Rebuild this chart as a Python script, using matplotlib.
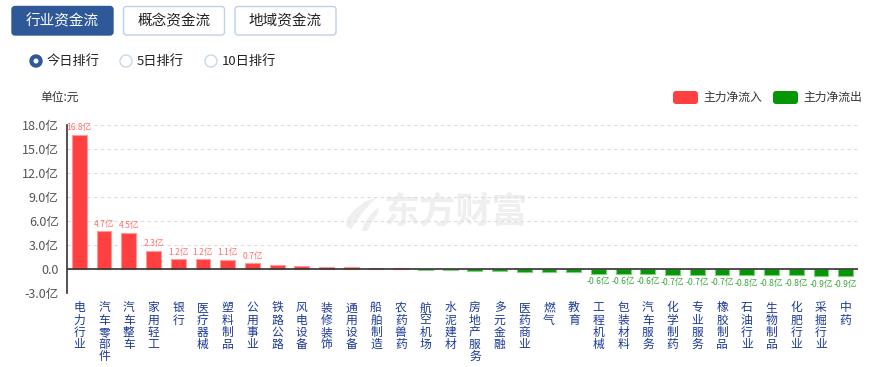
import matplotlib.pyplot as plt
from matplotlib.patches import FancyBboxPatch, Circle, Polygon
import numpy as np

plt.rcParams['font.family'] = ['Noto Sans CJK SC', 'DejaVu Sans']

# 行业资金流 今日排行 (单位: 亿元)
industries = ['电力行业', '汽车零部件', '汽车整车', '家用轻工', '银行', '医疗器械', '塑料制品',
              '公用事业', '铁路公路', '风电设备', '装修装饰', '通用设备', '船舶制造', '农药兽药',
              '航空机场', '水泥建材', '房地产服务', '多元金融', '医药商业', '燃气', '教育',
              '工程机械', '包装材料', '汽车服务', '化学制药', '专业服务', '橡胶制品', '石油行业',
              '生物制品', '化肥行业', '采掘行业', '中药']
net_flow = [16.8, 4.7, 4.5, 2.3, 1.2, 1.2, 1.1, 0.7, 0.45, 0.35, 0.25, 0.3, 0.08, 0.08,
            -0.1, -0.15, -0.2, -0.2, -0.35, -0.4, -0.4, -0.6, -0.6, -0.6, -0.7, -0.7,
            -0.7, -0.8, -0.8, -0.8, -0.9, -0.9]
yticks = [-3, 0, 3, 6, 9, 12, 15, 18]
ytick_labels = ['-3.0亿', '0.0', '3.0亿', '6.0亿', '9.0亿', '12.0亿', '15.0亿', '18.0亿']
tabs = ['行业资金流', '概念资金流', '地域资金流']
periods = ['今日排行', '5日排行', '10日排行']

RED = '#ff4040'
GREEN = '#059605'
BLUE = '#2f5898'

W, H = 869, 367
fig = plt.figure(figsize=(W / 100, H / 100), dpi=100)

# header widgets + watermark, drawn in pixel space behind the chart
ui = fig.add_axes([0, 0, 1, 1])
ui.set_xlim(0, W)
ui.set_ylim(H, 0)
ui.axis('off')

for k, name in enumerate(tabs):
    x0 = 12 + k * 111.5
    active = k == 0
    ui.add_patch(FancyBboxPatch((x0, 6.5), 101, 28.5, boxstyle='round,pad=0,rounding_size=3',
                                fc=BLUE if active else 'white',
                                ec=BLUE if active else '#bcd2ea', lw=1))
    ui.text(x0 + 50.5, 21, name, ha='center', va='center', fontsize=10.5,
            color='white' if active else '#222222')

for k, (name, cx) in enumerate(zip(periods, [36, 126, 211])):
    if k == 0:
        ui.add_patch(Circle((cx, 61), 6, fc=BLUE, ec=BLUE))
        ui.add_patch(Circle((cx, 61), 2.5, fc='white', ec='none'))
    else:
        ui.add_patch(Circle((cx, 61), 6, fc='white', ec='#c8d8ea', lw=1))
    ui.text(cx + 11, 61, name, ha='left', va='center', fontsize=9.5, color='#222222')

ui.text(40, 97, '单位:元', ha='left', va='center', fontsize=8.5, color='#333333')

for (label, color, x0) in [('主力净流入', RED, 673), ('主力净流出', GREEN, 773)]:
    ui.add_patch(FancyBboxPatch((x0, 91), 25, 13, boxstyle='round,pad=0,rounding_size=3',
                                fc=color, ec='none'))
    ui.text(x0 + 30, 97.5, label, ha='left', va='center', fontsize=8.5, color='#333333')

# watermark logo + name
ui.add_patch(Polygon([(377, 197), (366, 201), (355, 209), (347, 219), (346, 226), (351, 229),
                      (356, 222), (363, 212), (370, 204)], closed=True, fc='#efefef', ec='none'))
ui.add_patch(Polygon([(379, 207), (371, 214), (364, 224), (362, 231), (367, 231), (372, 222),
                      (378, 213)], closed=True, fc='#efefef', ec='none'))
ui.text(456, 212, '东方财富', ha='center', va='center', fontsize=26, fontweight='bold',
        color='#efefef')

# main chart
ax = fig.add_axes([67 / W, 1 - 293 / H, (858 - 67) / W, (293 - 125) / H])
x = np.arange(len(industries))
colors = [RED if v >= 0 else GREEN for v in net_flow]
edges = ['#ff9a9a' if v >= 0 else '#7fcf7f' for v in net_flow]
ax.bar(x, net_flow, width=0.6, color=colors, edgecolor=edges, linewidth=0.8, zorder=2)

for i, v in enumerate(net_flow):
    if abs(v) < 0.5:
        continue
    if v > 0:
        ax.text(i, v + 0.35, f'{v:.1f}亿', ha='center', va='bottom', fontsize=6.2, color='#ff6f6f')
    else:
        ax.text(i, v - 0.45, f'{v:.1f}亿', ha='center', va='top', fontsize=6.2, color='#3aa63a')

ax.axhline(0, color='#333333', lw=1.2, zorder=3)
ax.set_xlim(-0.5, len(industries) - 0.5)
ax.set_ylim(-3, 18)
ax.set_yticks(yticks)
ax.set_yticklabels(ytick_labels)
ax.set_xticks(x)
ax.set_xticklabels(['\n'.join(n) for n in industries], linespacing=0.92)
ax.tick_params(axis='x', length=0, pad=6, labelsize=8.5, labelcolor='#1b3a98')
ax.tick_params(axis='y', length=0, pad=6, labelsize=9, labelcolor='#555555')
for lab in ax.get_xticklabels():
    lab.set_verticalalignment('top')
ax.yaxis.grid(True, linestyle=(0, (3, 3)), color='#dddddd', lw=0.8)
ax.set_axisbelow(True)
for s in ['top', 'right', 'bottom']:
    ax.spines[s].set_visible(False)
ax.spines['left'].set_color('#333333')
ax.spines['left'].set_linewidth(1.2)
ax.patch.set_alpha(0)

fig.savefig('out.png', dpi=100)
